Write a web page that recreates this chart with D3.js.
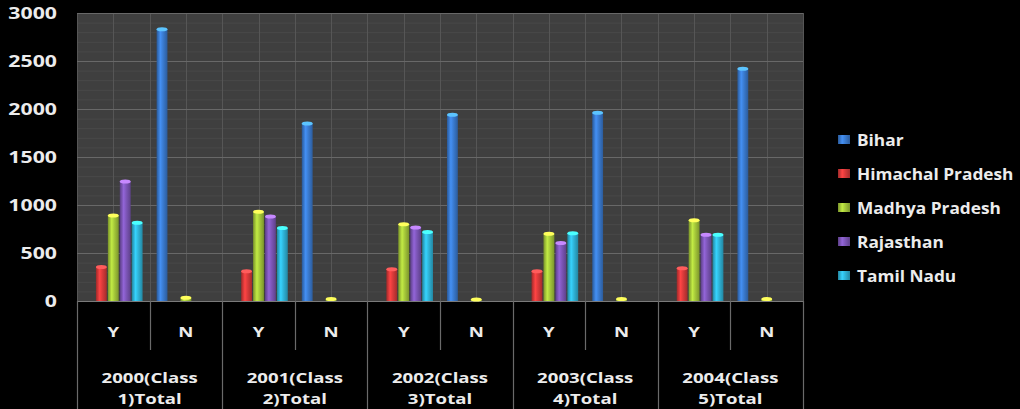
<!DOCTYPE html>
<html>
<head>
<meta charset="utf-8">
<script src="https://cdn.jsdelivr.net/npm/d3@7"></script>
<style>
  html, body { margin: 0; padding: 0; background: #000; }
  svg { display: block; }
  text { font-family: "Open Sans", "DejaVu Sans", sans-serif; font-weight: 700; fill: #ececec; }
</style>
</head>
<body>
<svg id="chart" width="1020" height="409"></svg>
<script>
// Category axis: each year has a Y and an N column
const years = ["2000(Class|1)Total", "2001(Class|2)Total", "2002(Class|3)Total", "2003(Class|4)Total", "2004(Class|5)Total"];
const answers = ["Y", "N"];

// States (series) in legend order
const states = ["Bihar", "Himachal Pradesh", "Madhya Pradesh", "Rajasthan", "Tamil Nadu"];

// Values per column: 2000 Y, 2000 N, 2001 Y, 2001 N, ...
const bihar     = [0, 2830, 0, 1850, 0, 1940, 0, 1960, 0, 2420];
const himachal  = [355, 0, 310, 0, 330, 0, 310, 0, 340, 0];
const madhya    = [890, 35, 930, 20, 800, 15, 700, 20, 840, 20];
const rajasthan = [1245, 0, 880, 0, 765, 0, 605, 0, 690, 0];
const tamilNadu = [815, 0, 760, 0, 720, 0, 705, 0, 690, 0];

const yTicks = [0, 500, 1000, 1500, 2000, 2500, 3000];

const seriesValues = [bihar, himachal, madhya, rajasthan, tamilNadu];
const colors = ["#3a7bd0", "#d93a3a", "#a5c83a", "#7d56b8", "#2fb4d8"];

const columns = [];
years.forEach((yr, i) => answers.forEach((a, j) => columns.push({ key: i * 2 + j, year: i, answer: a })));

const svg = d3.select("#chart");
const plot = { left: 77, right: 803, top: 13, bottom: 301 };
const stretch = 1.33;

const y = d3.scaleLinear().domain([0, 3000]).range([plot.bottom, plot.top]);
const x0 = d3.scaleBand().domain(columns.map(c => c.key)).range([plot.left, plot.right]);
const x1 = d3.scaleBand().domain(states).range([7, x0.bandwidth() - 7]).paddingInner(0.09);

// Cylinder shading for each series
const defs = svg.append("defs");
colors.forEach((c, i) => {
  const base = d3.color(c);
  const g = defs.append("linearGradient").attr("id", "cyl" + i)
    .attr("x1", "0%").attr("x2", "100%").attr("y1", "0%").attr("y2", "0%");
  g.append("stop").attr("offset", "0%").attr("stop-color", base.darker(0.9));
  g.append("stop").attr("offset", "35%").attr("stop-color", base.brighter(0.45));
  g.append("stop").attr("offset", "60%").attr("stop-color", base);
  g.append("stop").attr("offset", "100%").attr("stop-color", base.darker(0.8));
});

// Plot background
svg.append("rect")
  .attr("x", plot.left).attr("y", plot.top)
  .attr("width", plot.right - plot.left).attr("height", plot.bottom - plot.top)
  .attr("fill", "#3f3f3f");

// Minor horizontal gridlines
const grid = svg.append("g");
grid.selectAll("line.minor-h")
  .data(d3.range(100, 3000, 100).filter(v => v % 500 !== 0))
  .join("line").attr("class", "minor-h")
  .attr("x1", plot.left).attr("x2", plot.right)
  .attr("y1", d => y(d) + 0.5).attr("y2", d => y(d) + 0.5)
  .attr("stroke", "#494949").attr("stroke-width", 1);

// Vertical gridlines at column edges and centres
const vLines = [];
columns.forEach(c => { vLines.push(x0(c.key)); vLines.push(x0(c.key) + x0.bandwidth() / 2); });
vLines.push(plot.right);
grid.selectAll("line.v")
  .data(vLines)
  .join("line").attr("class", "v")
  .attr("x1", d => Math.round(d) + 0.5).attr("x2", d => Math.round(d) + 0.5)
  .attr("y1", plot.top).attr("y2", plot.bottom)
  .attr("stroke", "#565656").attr("stroke-width", 1);

// Major horizontal gridlines
grid.selectAll("line.major-h")
  .data(yTicks)
  .join("line").attr("class", "major-h")
  .attr("x1", plot.left).attr("x2", plot.right)
  .attr("y1", d => Math.round(y(d)) + 0.5).attr("y2", d => Math.round(y(d)) + 0.5)
  .attr("stroke", d => d === 0 ? "#7a7a7a" : "#686868").attr("stroke-width", 1.2);

// Bars
const barData = [];
columns.forEach(c => states.forEach((s, si) => {
  const v = seriesValues[si][c.key];
  if (v > 0) barData.push({ col: c.key, state: s, si, value: v });
}));

const bars = svg.append("g").selectAll("g.bar").data(barData).join("g").attr("class", "bar");
bars.append("rect")
  .attr("x", d => x0(d.col) + x1(d.state))
  .attr("y", d => y(d.value))
  .attr("width", x1.bandwidth())
  .attr("height", d => plot.bottom - y(d.value))
  .attr("fill", d => "url(#cyl" + d.si + ")");
bars.append("ellipse")
  .attr("cx", d => x0(d.col) + x1(d.state) + x1.bandwidth() / 2)
  .attr("cy", d => y(d.value))
  .attr("rx", x1.bandwidth() / 2)
  .attr("ry", 2)
  .attr("fill", d => d3.color(colors[d.si]).brighter(1.3));

// Y axis labels
const yAxis = svg.append("g")
  .attr("transform", `translate(${plot.left},0)`)
  .call(d3.axisLeft(y).tickValues(yTicks).tickSize(0).tickFormat(d3.format("d")));
yAxis.select(".domain").remove();
yAxis.selectAll("text")
  .attr("x", 0)
  .attr("transform", `translate(-20,0) scale(${stretch},1)`)
  .style("font-size", "16px")
  .attr("fill", "#ececec");

// Category label area below the plot
const xArea = svg.append("g");
d3.range(columns.length + 1).forEach(i => {
  const xp = i < columns.length ? x0(i) : plot.right;
  xArea.append("line")
    .attr("x1", Math.round(xp) + 0.5).attr("x2", Math.round(xp) + 0.5)
    .attr("y1", plot.bottom).attr("y2", i % 2 === 0 ? 409 : 350)
    .attr("stroke", "#6a6a6a").attr("stroke-width", 1.2);
});

function stretchedText(sel, x, yPos, str, size) {
  sel.append("g")
    .attr("transform", `translate(${x},${yPos}) scale(${stretch},1)`)
    .append("text")
    .attr("text-anchor", "middle")
    .attr("dominant-baseline", "central")
    .style("font-size", size + "px")
    .text(str);
}

columns.forEach(c => {
  stretchedText(xArea, x0(c.key) + x0.bandwidth() / 2, 331, c.answer, 14);
});
years.forEach((yr, i) => {
  const cx = x0(i * 2) + x0.bandwidth();
  const [l1, l2] = yr.split("|");
  stretchedText(xArea, cx, 377, l1, 14);
  stretchedText(xArea, cx, 398, l2, 14);
});

// Legend
const legend = svg.append("g");
states.forEach((s, i) => {
  const ly = 140 + i * 34;
  legend.append("rect")
    .attr("x", 838).attr("y", ly - 5)
    .attr("width", 12).attr("height", 9)
    .attr("fill", "url(#cyl" + i + ")");
  legend.append("g")
    .attr("transform", `translate(857,${ly}) scale(1.08,1)`)
    .append("text")
    .attr("dominant-baseline", "central")
    .style("font-size", "16px")
    .text(s);
});
</script>
</body>
</html>
